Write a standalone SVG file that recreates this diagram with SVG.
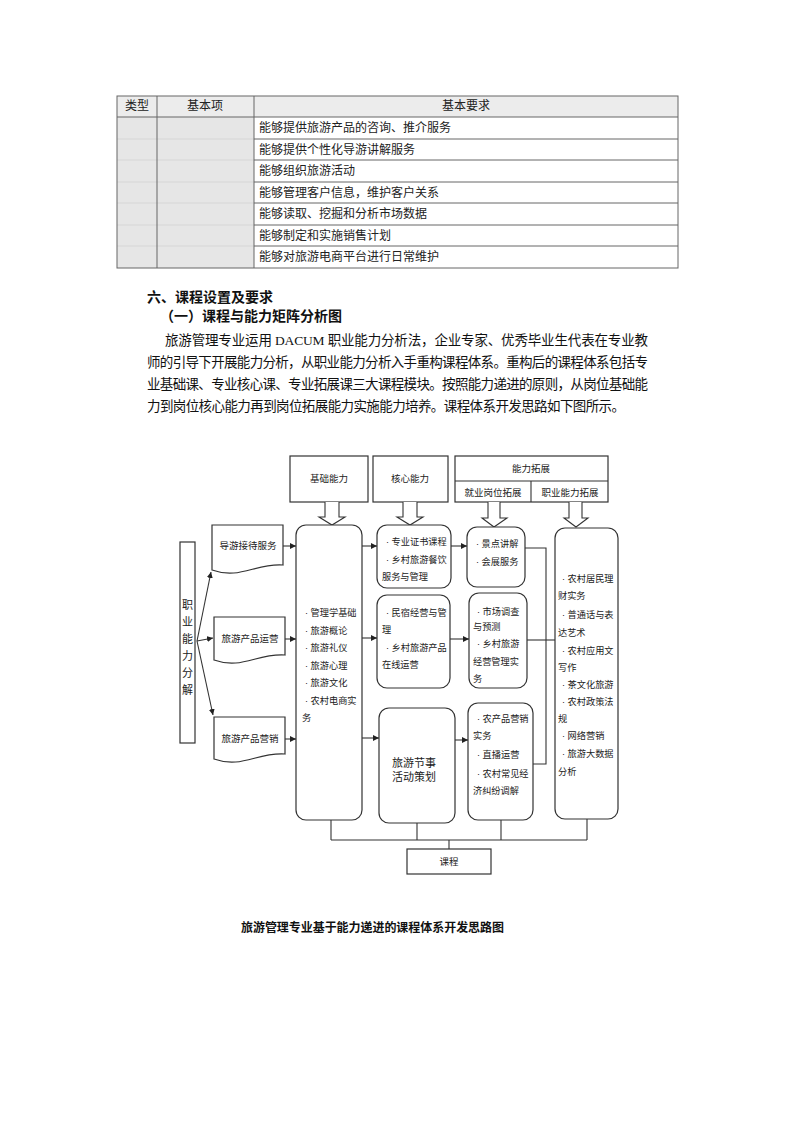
<svg xmlns="http://www.w3.org/2000/svg" width="793" height="1122" viewBox="0 0 793 1122">
<style>
.pg{fill:#ffffff}
.tb{font-family:"Liberation Serif","Noto Sans CJK SC",serif;font-size:12px;fill:#222}
.tc{text-anchor:middle}
.para{font-family:"Liberation Serif","Noto Sans CJK SC",serif;font-size:13.5px;fill:#111}
.hd{font-family:"Noto Sans CJK SC",sans-serif;font-size:14px;font-weight:bold;fill:#111}
.cap{font-family:"Noto Sans CJK SC",sans-serif;font-size:12px;font-weight:bold;fill:#111}
.tl{stroke:#666;stroke-width:1;fill:none}
.tf{stroke:#d6d6d6;stroke-width:1;fill:none}
.bx{fill:#fff;stroke:#333;stroke-width:1.2}
.dt{font-family:"Liberation Sans","Noto Sans CJK SC",sans-serif;font-size:9.2px;fill:#222;white-space:pre}
.dh{font-family:"Noto Sans CJK SC",sans-serif;font-size:9.5px;fill:#222;text-anchor:middle}
.big{font-family:"Noto Sans CJK SC",sans-serif;font-size:11px;fill:#222}
.ln{fill:none;stroke:#333;stroke-width:1.1}
.ha{fill:#fff;stroke:#333;stroke-width:1.1}
</style>
<defs>
<marker id="ah" viewBox="0 0 10 10" refX="10" refY="5" markerWidth="6" markerHeight="6" markerUnits="userSpaceOnUse" orient="auto"><path d="M0,0 L10,5 L0,10 z" fill="#222"/></marker>
</defs>
<rect class="pg" x="0" y="0" width="793" height="1122"/>

<g id="table">
<rect x="117" y="96" width="561" height="21" fill="#ececec"/>
<rect x="117" y="117" width="137" height="151" fill="#e6e6e6"/>
<path class="tf" d="M117,139H254M117,160H254M117,182H254M117,203H254M117,225H254M117,246H254"/>
<path class="tl" d="M254,139H678M254,160H678M254,182H678M254,203H678M254,225H678M254,246H678"/>
<path class="tl" d="M117,117H678M157,96V268M254,96V268"/>
<rect class="tl" x="117" y="96" width="561" height="172" stroke="#555"/>
<text class="tb tc" x="137" y="110">类型</text>
<text class="tb tc" x="205" y="110">基本项</text>
<text class="tb tc" x="466" y="110">基本要求</text>
<text class="tb" x="259" y="132">能够提供旅游产品的咨询、推介服务</text>
<text class="tb" x="259" y="154">能够提供个性化导游讲解服务</text>
<text class="tb" x="259" y="175">能够组织旅游活动</text>
<text class="tb" x="259" y="197">能够管理客户信息，维护客户关系</text>
<text class="tb" x="259" y="218">能够读取、挖掘和分析市场数据</text>
<text class="tb" x="259" y="240">能够制定和实施销售计划</text>
<text class="tb" x="259" y="261">能够对旅游电商平台进行日常维护</text>
</g>

<g id="section-text">
<text class="hd" x="147" y="302">六、课程设置及要求</text>
<text class="hd" x="160" y="321">（一）课程与能力矩阵分析图</text>
<text class="para" x="165" y="345" textLength="483" lengthAdjust="spacing">旅游管理专业运用 DACUM 职业能力分析法，企业专家、优秀毕业生代表在专业教</text>
<text class="para" x="147" y="367" textLength="501" lengthAdjust="spacing">师的引导下开展能力分析，从职业能力分析入手重构课程体系。重构后的课程体系包括专</text>
<text class="para" x="147" y="389" textLength="501" lengthAdjust="spacing">业基础课、专业核心课、专业拓展课三大课程模块。按照能力递进的原则，从岗位基础能</text>
<text class="para" x="147" y="411" textLength="478" lengthAdjust="spacing">力到岗位核心能力再到岗位拓展能力实施能力培养。课程体系开发思路如下图所示。</text>
</g>

<g id="hdr-basic">
<rect class="bx" x="290" y="456" width="78" height="46"/>
<text class="dh" x="329" y="482">基础能力</text>
</g>
<g id="hdr-core">
<rect class="bx" x="373" y="456" width="75" height="46"/>
<text class="dh" x="410" y="482">核心能力</text>
</g>
<g id="hdr-ext">
<rect class="bx" x="455" y="456" width="153" height="46"/>
<path class="ln" d="M455,481H608M531,481V502"/>
<text class="dh" x="531" y="472">能力拓展</text>
<text class="dh" x="493" y="496">就业岗位拓展</text>
<text class="dh" x="570" y="496">职业能力拓展</text>
</g>

<g id="hollow-arrows">
<path class="ha" d="M325,502V517H319L332,525L345,517H339V502"/>
<path class="ha" d="M403,502V517H397L410,525L423,517H417V502"/>
<path class="ha" d="M488,502V518H482L494,527L507,518H500V502"/>
<path class="ha" d="M569,502V518H564L576,527L588,518H582V502"/>
</g>

<g id="n-decomp">
<rect class="bx" x="180" y="542" width="15" height="201"/>
<text class="big" x="187.5" y="609" text-anchor="middle">职</text>
<text class="big" x="187.5" y="626" text-anchor="middle">业</text>
<text class="big" x="187.5" y="643" text-anchor="middle">能</text>
<text class="big" x="187.5" y="660" text-anchor="middle">力</text>
<text class="big" x="187.5" y="677" text-anchor="middle">分</text>
<text class="big" x="187.5" y="694" text-anchor="middle">解</text>
</g>

<g id="n-doc1">
<path class="bx" d="M212,525H283V565C255,563 240,580 212,570Z"/>
<text class="dh" x="248" y="549">导游接待服务</text>
</g>
<g id="n-doc2">
<path class="bx" d="M214,617H285V655C257,653 242,670 214,660Z"/>
<text class="dh" x="250" y="642">旅游产品运营</text>
</g>
<g id="n-doc3">
<path class="bx" d="M214,717H285V754C257,752 242,769 214,759Z"/>
<text class="dh" x="250" y="742">旅游产品营销</text>
</g>

<g id="n-basic">
<rect class="bx" x="296" y="525" width="66" height="295" rx="10"/>
<text class="dt" x="305" y="616">· 管理学基础</text>
<text class="dt" x="305" y="633.5">· 旅游概论</text>
<text class="dt" x="305" y="651">· 旅游礼仪</text>
<text class="dt" x="305" y="668.5">· 旅游心理</text>
<text class="dt" x="305" y="686">· 旅游文化</text>
<text class="dt" x="305" y="703.5">· 农村电商实</text>
<text class="dt" x="302" y="721">务</text>
</g>

<g id="n-core1">
<rect class="bx" x="377" y="525" width="74" height="63" rx="10"/>
<text class="dt" x="386" y="544.5">· 专业证书课程</text>
<text class="dt" x="386" y="562.5">· 乡村旅游餐饮</text>
<text class="dt" x="382" y="580">服务与管理</text>
</g>
<g id="n-core2">
<rect class="bx" x="377" y="595" width="73" height="93" rx="10"/>
<text class="dt" x="386" y="615.5">· 民宿经营与管</text>
<text class="dt" x="382" y="633">理</text>
<text class="dt" x="386" y="650.5">· 乡村旅游产品</text>
<text class="dt" x="382" y="668">在线运营</text>
</g>
<g id="n-core3">
<rect class="bx" x="379" y="708" width="76" height="115" rx="10"/>
<text class="big" x="392" y="767">旅游节事</text>
<text class="big" x="392" y="781">活动策划</text>
</g>

<g id="n-ext1a">
<rect class="bx" x="467" y="527" width="58" height="60" rx="10"/>
<text class="dt" x="476" y="546.5">· 景点讲解</text>
<text class="dt" x="476" y="564.5">· 会展服务</text>
</g>
<g id="n-ext1b">
<rect class="bx" x="469" y="593" width="58" height="95" rx="10"/>
<text class="dt" x="477" y="614.5">· 市场调查</text>
<text class="dt" x="473" y="629.5">与预测</text>
<text class="dt" x="477" y="646.5">· 乡村旅游</text>
<text class="dt" x="473" y="664.5">经营管理实</text>
<text class="dt" x="473" y="681.5">务</text>
</g>
<g id="n-ext1c">
<rect class="bx" x="468" y="703" width="65" height="117" rx="10"/>
<text class="dt" x="477" y="721.5">· 农产品营销</text>
<text class="dt" x="473" y="738.5">实务</text>
<text class="dt" x="477" y="757.5">· 直播运营</text>
<text class="dt" x="477" y="776.5">· 农村常见经</text>
<text class="dt" x="473" y="793.5">济纠纷调解</text>
</g>

<g id="n-ext2">
<rect class="bx" x="555" y="528" width="63" height="291" rx="10"/>
<text class="dt" x="562" y="581.5">· 农村居民理</text>
<text class="dt" x="558" y="598.5">财实务</text>
<text class="dt" x="562" y="617.5">· 普通话与表</text>
<text class="dt" x="558" y="635.5">达艺术</text>
<text class="dt" x="562" y="653.5">· 农村应用文</text>
<text class="dt" x="558" y="670.5">写作</text>
<text class="dt" x="562" y="687.5">· 茶文化旅游</text>
<text class="dt" x="562" y="704.5">· 农村政策法</text>
<text class="dt" x="558" y="721.5">规</text>
<text class="dt" x="562" y="738.5">· 网络营销</text>
<text class="dt" x="562" y="756.5">· 旅游大数据</text>
<text class="dt" x="558" y="774.5">分析</text>
</g>

<g id="n-course">
<rect class="bx" x="407" y="849" width="84" height="25"/>
<text class="dh" x="449" y="865">课程</text>
</g>

<g id="connectors">
<path class="ln" d="M197,641L211,572" marker-end="url(#ah)"/>
<path class="ln" d="M197,641L213,638" marker-end="url(#ah)"/>
<path class="ln" d="M197,641L213,715" marker-end="url(#ah)"/>
<path class="ln" d="M283,546H296" marker-end="url(#ah)"/>
<path class="ln" d="M285,639H296" marker-end="url(#ah)"/>
<path class="ln" d="M285,739H296" marker-end="url(#ah)"/>
<path class="ln" d="M362,546H377" marker-end="url(#ah)"/>
<path class="ln" d="M362,638H377" marker-end="url(#ah)"/>
<path class="ln" d="M362,738H379" marker-end="url(#ah)"/>
<path class="ln" d="M451,546H467" marker-end="url(#ah)"/>
<path class="ln" d="M450,639H469" marker-end="url(#ah)"/>
<path class="ln" d="M455,740H468" marker-end="url(#ah)"/>
<path class="ln" d="M525,548H546V764H533"/>
<path class="ln" d="M527,640H555"/>
<path class="ln" d="M331,820V840M417,823V840M501,820V840M587,819V840M331,840H587M449,840V849"/>
</g>

<g id="caption">
<text class="cap" x="241" y="932" textLength="263" lengthAdjust="spacing">旅游管理专业基于能力递进的课程体系开发思路图</text>
</g>
</svg>
